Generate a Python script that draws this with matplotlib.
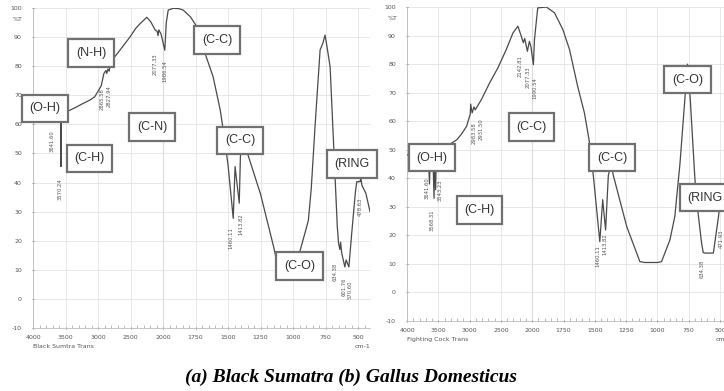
import numpy as np
import matplotlib.pyplot as plt
from matplotlib.ticker import FixedLocator, FixedFormatter


def fwd(x):
    x = np.asarray(x, dtype=float)
    return np.where(x >= 2000, (x - 2000) / 500 + 6, (x - 500) / 250)


def inv(y):
    y = np.asarray(y, dtype=float)
    return np.where(y >= 6, (y - 6) * 500 + 2000, y * 250 + 500)


# Black Sumatra spectrum
bs_wn = [4000, 3900, 3800, 3700, 3650, 3641.60, 3630, 3590, 3575, 3570.24, 3565, 3540,
         3430, 3330, 3230, 3130, 3050, 2950, 2910, 2880, 2865.58, 2850, 2827.94, 2815,
         2750, 2660, 2510, 2420, 2350, 2250, 2190, 2120, 2090, 2077.33, 2065, 2030,
         1986.54, 1975, 1960, 1920, 1880, 1845, 1790, 1740, 1670, 1615, 1560, 1530, 1500,
         1460.11, 1446, 1413.82, 1405, 1380, 1343, 1250, 1150, 1113, 1060, 1000, 946,
         900, 882, 860, 830, 792, 770, 754, 740, 715, 690, 660, 650, 640, 634.38, 626,
         601.76, 592, 570.60, 549, 520, 510, 485, 478.63, 470, 440, 408]
bs_t = [64, 63.8, 63.6, 63.5, 63.4, 61, 63.3, 63.2, 63, 45.5, 62.8, 63.8,
        64.9, 66, 67.2, 68.3, 69.5, 73.3, 77.5, 78.5, 77.5, 79, 78.3, 80.5,
        83, 85.6, 90, 93, 94.7, 96.8, 95.3, 92.4, 92, 90.5, 92.5, 91,
        85.5, 95, 99.3, 99.9, 99.8, 99.3, 97, 93.6, 83.5, 76.4, 64.9, 56, 46,
        27.7, 45.5, 32.9, 49, 55, 49, 36, 18, 10.5, 7, 10, 16.6,
        24, 27.1, 38, 60, 85.6, 88, 90.7, 87, 79.8, 55, 25, 19.1, 17, 19.5, 15.8,
        11, 13.4, 11, 22.5, 37, 40.3, 40.3, 41.5, 39, 36.3, 30]

# Gallus Domesticus spectrum
gd_wn = [4000, 3900, 3800, 3700, 3660, 3641.60, 3625, 3590, 3568.31, 3555, 3543.23, 3530,
         3450, 3373, 3290, 3205, 3130, 3049, 2990, 2983.58, 2960, 2931.50, 2910, 2814,
         2681, 2548, 2415, 2308, 2229, 2175, 2142.81, 2120, 2077.33, 2045, 2020, 1990.54,
         1982, 1956, 1887, 1822, 1755, 1702, 1637, 1583, 1546, 1512, 1460.11, 1437,
         1413.82, 1392, 1370, 1352, 1245, 1140, 1100, 1000, 967, 900, 861, 820, 780, 760,
         738, 700, 672, 647, 634.38, 620, 553, 512, 490, 471.93, 468]
gd_t = [48.2, 48.5, 49, 49.5, 49.6, 38, 50, 50.2, 33, 50.3, 36, 50.5,
        50.8, 51.2, 52.3, 53.5, 55.5, 58.2, 62.5, 66, 62.9, 65, 64, 67.5,
        73.4, 78.7, 85.1, 90.9, 93.3, 89.8, 87.5, 89, 84.5, 88, 86, 79.8,
        88.6, 99.7, 100, 98, 92.1, 85.1, 72.2, 62.9, 53.5, 41, 17.8, 32.5,
        21.9, 41, 45, 41, 23.1, 10.8, 10.5, 10.5, 10.8, 18.4, 26.6, 45, 68.1, 80,
        68.1, 39.5, 26.6, 17.3, 14, 13.8, 13.8, 26.6, 35, 30, 30]

# band boxes
bs_box_text = ['(O-H)', '(N-H)', '(C-H)', '(C-N)', '(C-C)', '(C-C)', '(C-O)', '(RING']
bs_box_wn = [3815, 3108, 3131, 2170, 1585, 1408, 950, 546]
bs_box_t = [65.5, 84.5, 48.3, 59.1, 89.0, 54.5, 11.3, 46.4]

gd_box_text = ['(O-H)', '(C-H)', '(C-C)', '(C-C)', '(C-O)', '(RING']
gd_box_wn = [3605, 2842, 2010, 1363, 760, 620]
gd_box_t = [47.2, 28.9, 57.9, 47.2, 74.6, 33.2]

# peak labels: peak value, label position (wavenumber, %T at top of text)
bs_peak_wn = [3641.60, 3570.24, 2865.58, 2827.94, 2077.33, 1986.54, 1460.11, 1413.82,
              634.38, 601.76, 570.60, 478.63]
bs_peak_x = [3700, 3585, 2940, 2823, 2123, 1988, 1480, 1404, 673, 608, 558, 481]
bs_peak_t = [58.1, 41.6, 72.5, 73.5, 84.5, 82.1, 24.7, 29.5, 12.3, 7.5, 6.5, 34.7]

gd_peak_wn = [3641.60, 3568.31, 3543.23, 2983.58, 2931.50, 2142.81, 2077.33, 1990.54,
              1460.11, 1413.82, 634.38, 471.93]
gd_peak_x = [3681, 3600, 3465, 2930, 2818, 2187, 2067, 1978, 1478, 1423, 640, 488]
gd_peak_t = [40.5, 29, 39.5, 59.8, 61.2, 83.3, 79.1, 75.3, 16.7, 20.9, 11.4, 21.9]

x_ticks = [4000, 3500, 3000, 2500, 2000, 1750, 1500, 1250, 1000, 750, 500]
y_ticks = [-10, 0, 10, 20, 30, 40, 50, 60, 70, 80, 90, 100]

tick_col = '#555555'


def draw_panel(ax, wn, t, box_text, box_wn, box_t, peak_wn, peak_x, peak_t, xright, name):
    ax.set_xscale('function', functions=(fwd, inv))
    ax.plot(wn, t, color='#4a4a4a', lw=0.9, zorder=3)
    ax.set_xlim(4000, xright)
    ax.set_ylim(-10, 100)

    ax.xaxis.set_major_locator(FixedLocator(x_ticks))
    ax.xaxis.set_major_formatter(FixedFormatter([str(v) for v in x_ticks]))
    minor = list(np.arange(4000, 2000, -100)) + list(np.arange(2000, 400, -50))
    ax.xaxis.set_minor_locator(FixedLocator(minor))
    ax.set_yticks(y_ticks)
    ax.set_yticklabels([str(v) for v in y_ticks])
    ax.tick_params(axis='both', labelsize=4.5, colors=tick_col, length=2, width=0.5,
                   direction='inout')
    ax.tick_params(axis='y', pad=7)
    ax.tick_params(axis='x', pad=4)
    ax.tick_params(axis='x', which='minor', length=2, width=0.4, colors='#888888',
                   direction='in')
    ax.grid(True, color='#e4e4e4', lw=0.6)
    ax.axvline(2000, color='#bdbdbd', lw=0.8, zorder=1)
    for side in ['top', 'right']:
        ax.spines[side].set_visible(False)
    for side in ['left', 'bottom']:
        ax.spines[side].set_color('#bbbbbb')
        ax.spines[side].set_linewidth(0.6)

    ax.text(-0.03, 96, '%T', transform=ax.get_yaxis_transform(), ha='right',
            va='center', fontsize=4.5, color=tick_col)
    ax.text(0.0, -0.05, name, transform=ax.transAxes, ha='left', va='top',
            fontsize=4.5, color=tick_col)

    for s, x, y in zip(box_text, box_wn, box_t):
        ax.text(x, y, s, ha='center', va='center', fontsize=9, family='Liberation Sans',
                color='#333333', zorder=5, clip_on=False,
                bbox=dict(boxstyle='square,pad=0.62', fc='white', ec='#707070', lw=1.6))

    for v, x, y in zip(peak_wn, peak_x, peak_t):
        ax.text(x, y, '%.2f' % v, rotation=90, ha='center', va='top', fontsize=3.8,
                color='#555555', zorder=4, clip_on=True)


fig = plt.figure(figsize=(7.24, 3.91), dpi=100)
ax1 = fig.add_axes([0.0456, 0.1611, 0.4655, 0.8184])
ax2 = fig.add_axes([0.5622, 0.179, 0.4378, 0.803])

draw_panel(ax1, bs_wn, bs_t, bs_box_text, bs_box_wn, bs_box_t, bs_peak_wn, bs_peak_x,
           bs_peak_t, 408, 'Black Sumtra Trans')
draw_panel(ax2, gd_wn, gd_t, gd_box_text, gd_box_wn, gd_box_t, gd_peak_wn, gd_peak_x,
           gd_peak_t, 468, 'Fighting Cock Trans')

ax1.text(1.0, -0.05, 'cm-1', transform=ax1.transAxes, ha='right', va='top',
         fontsize=4.5, color=tick_col)
ax2.text(0.975, -0.05, 'cm-1', transform=ax2.transAxes, ha='left', va='top',
         fontsize=4.5, color=tick_col)

fig.text(351 / 724, 1 - 377 / 391, '(a) Black Sumatra (b) Gallus Domesticus',
         ha='center', va='center', family='Liberation Serif', weight='bold',
         style='italic', fontsize=14)

fig.savefig('out.png', dpi=100)
